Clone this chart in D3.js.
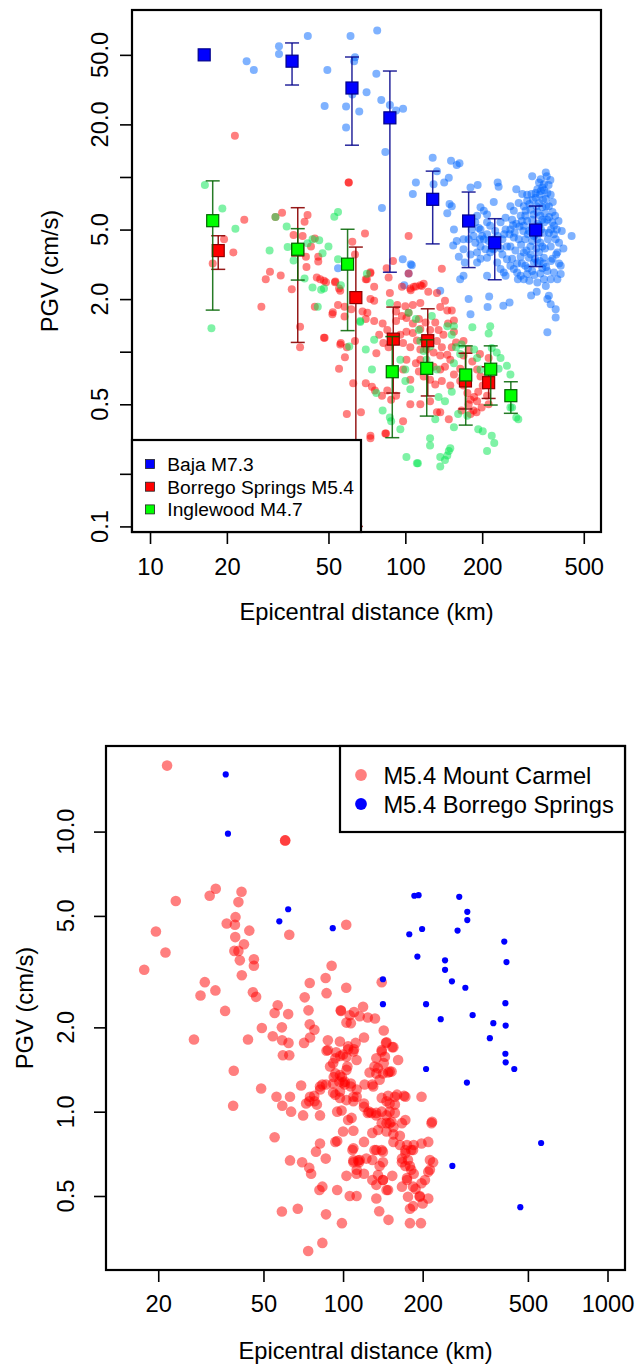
<!DOCTYPE html>
<html>
<head>
<meta charset="utf-8">
<script src="https://cdn.jsdelivr.net/npm/d3@7/dist/d3.min.js"></script>
<style>
  body { margin: 0; background: #fff; }
  svg { display: block; }
  text { font-family: "Liberation Sans", Arial, Helvetica, sans-serif; fill: #000; }
</style>
</head>
<body>
<svg id="chart" width="636" height="1365"></svg>
<script>
// ---------- Panel 1: PGV vs distance, three events ----------
// Station records: [epicentral distance km, PGV cm/s]
const bajaPts = [
  [23.9,46],[25.5,41],[32,56],[32,50.5],[41.5,64],[49.5,41],[61,64],[63.5,48.5],[63,46],[77.6,69],[77,39],
  [70.5,30.5],[80.5,27.6],[87,25.8],[92,24],[98,24.6],[48.3,25.5],[58.6,25.3],[62,29.7],[66,23.7],[58.6,19.2],
  [83.5,13.9],[81,6.65],[97.7,3.38],[99,2.4],[103,2.8],[54.5,3.0],
  [128,12.9],[133,10.8],[151,12.4],[159,11.7],[163,12.0],[110,9.3],[129,9.1],[142,9.3],[148,9.9],[107,8.0],
  [149,7.0],[152,6.8],[146,6.2],[180,8.7],[192,9.0],[230,9.3],[232,8.8],[272,8.5],[287,8.0],[300,7.9],[314,10.1],
  [355,10.6],[358,10.1],[334,9.3],[344,8.7],[324,8.1],[339,8.3],[360,8.1],[371,7.9],[222,7.2],[197,6.7],[203,6.4],
  [209,6.1],[191,6.0],[188,5.5],[194,5.1],[200,4.6],[155,5.0],[159,4.3],[154,4.05],[169,3.86],[162,3.5],[171,3.24],
  [169,2.72],[164,2.6],[191,3.24],[197,3.4],[209,3.45],[215,3.7],[236,2.97],[243,2.84],[247,2.72],[209,2.72],
  [258,3.1],[266,2.97],[274,2.84],[283,2.72],[291,2.6],[300,2.78],[329,2.49],[349,2.6],[371,2.6],[394,2.6],
  [406,2.78],[382,2.84],[355,2.38],[365,2.09],[360,2.0],[371,1.87],[388,1.75],[388,1.57],[360,1.29],[311,2.1],
  [327,2.2],[256,1.91],[242,1.83],[210,1.8],[213,2.07],[177,2.0],[180,1.64],[105,3.17],[106,3.12],[137,2.23],
  [169,4.4],[448,4.6],
  [258,6.8],[266,6.4],[278,7.1],[262,5.7],[272,5.4],[283,6.0],[268,4.8],[278,4.4],[258,4.0],[270,3.8],[283,3.5],
  [262,3.4],[274,3.2],[291,6.8],[300,7.3],[309,6.5],[295,6.0],[314,5.7],[291,5.25],[305,4.9],[319,4.6],[295,4.4],
  [309,4.0],[291,3.7],[305,3.45],[319,3.24],[295,3.1],[314,2.9],[324,7.6],[334,7.1],[344,6.7],[329,6.3],[344,5.7],
  [334,5.25],[349,4.8],[329,4.4],[344,4.0],[334,3.7],[349,3.45],[329,3.24],[344,3.0],[339,9.7],[349,9.1],[329,8.5],
  [355,7.5],[365,6.8],[377,6.3],[360,5.7],[382,5.25],[365,4.8],[388,4.4],[371,4.0],[394,3.7],[377,3.4],[400,3.2],
  [360,2.9],[382,4.7],[400,4.2],[406,3.1],[215,5.25],[225,4.9],[236,5.5],[247,5.85],[240,4.4],[229,4.1],[250,4.0],
  [222,3.86],[240,3.6],[250,3.38],[229,3.24],[209,4.7],[222,4.4],[247,5.0],[258,5.0],[174,5.7],[182,5.0],[177,4.4],
  [188,4.2],[197,4.0],[180,3.6],[191,3.7],[206,3.86],[203,4.4],[209,5.5],[197,5.0],[185,4.6],
  [300,5.6],[312,5.1],[322,4.7],[330,5.4],[340,5.0],[350,5.5],[318,6.1],[338,6.0],[326,6.8],[352,6.2],[306,7.0],
  [316,7.4],[296,6.4],[286,5.6],[302,4.7],[314,4.3],[326,3.9],[338,4.2],[352,3.9],[362,4.4],[372,5.0],[366,5.9],
  [376,5.5],[386,6.0],[356,6.8],[346,7.4],[336,7.9],[312,8.0],[350,8.4],[364,9.0],[370,9.6],[378,7.2],[290,4.9],
  [280,5.2],[266,4.5],[284,4.1],[298,3.8],[310,3.6],[322,3.4],[336,3.3],[348,3.2],[302,3.0],[320,2.75],[338,2.8],
  [356,3.05],[372,3.3],[390,3.6],[392,5.0],[398,5.6],[410,4.9],[416,3.9],[286,3.2],[276,2.6],[306,2.55],[230,4.6],
  [218,3.9],[236,3.9],[256,4.7],[264,5.3],[244,4.7],[196,4.4],[212,4.3]
];

const borregoPts = [
  [21.5,17.2],[23.4,5.7],[19.5,4.4],[21.2,3.7],[17.6,3.2],[27.3,1.81],[32.9,6.25],[31,5.9],[41.4,6.05],[40.3,5.55],
  [36.5,4.65],[39.6,4.6],[44.2,4.45],[42.7,4.0],[40.8,3.5],[41,3.05],[45.6,3.5],[45.6,3.28],[29.5,2.87],[28.4,2.6],
  [32.5,2.73],[35.9,2.28],[45,2.66],[46.4,2.6],[48.9,2.5],[53.2,2.52],[55.6,2.23],[44.2,1.81],[51.8,1.64],[54.5,1.85],
  [57.8,1.81],[57.8,1.59],[61.4,1.75],[62,4.26],[60,9.3],[60,9.3],[38.7,1.39],[48.3,1.2],[55.9,1.12],[38.7,1.06],
  [69.5,4.74],[103,4.6],[89.5,3.3],[84.5,3.0],[103,2.8],[139,2.98],[104.6,2.3],[110,2.36],[116,2.38],[70.7,2.6],
  [72.9,2.81],[63.5,3.6],
  [48,2.55],[53,2.5],[55,2.3],[52,1.68],[48,1.2],[55.6,1.1],[59,1.06],[63.5,1.15],[58,0.93],[55,0.8],[62.5,0.66],
  [70,0.66],[74,0.63],[76,0.6],[68,1.7],[71,1.67],[75.5,1.5],[70,1.54],[73,2.0],[75.5,1.96],[70,2.6],[73,2.85],
  [86,2.66],[87,2.17],[97,2.35],[105,2.25],[108,2.35],[114.5,2.4],[118,2.45],[123,2.2],[133,2.17],[143,1.96],
  [137,1.8],[146,1.72],[152,1.72],[155,1.51],[93,1.85],[100,1.82],[107,1.85],[114.5,1.9],[97,1.6],[101,1.56],
  [107,1.45],[113,1.54],[92,1.5],[81.5,1.45],[85,1.33],[79,1.25],[82,1.12],[77,0.98],[86,1.06],[95.6,1.25],
  [101,1.3],[98,1.12],[104.6,1.06],[111,1.16],[118,1.17],[125,1.33],[131,1.47],[135,1.33],[133,1.15],[139,1.06],
  [129,0.99],[137,0.95],[146,0.96],[150,0.9],[143,0.82],[137,0.79],[129,0.82],[121,0.83],[114.5,0.9],[110,0.86],
  [101,0.9],[98,0.79],[104.6,0.69],[113,0.77],[118,0.72],[125,0.69],[131,0.65],[139,0.68],[150,0.64],[155,0.74],
  [164,0.8],[158,1.13],[169,1.15],[177,1.03],[169,0.95],[164,0.68],[169,0.64],[175,0.58],[180,0.53],[177,0.5],
  [186,0.55],[191,0.52],[193,0.59],[201,0.64],[197,0.72],[191,0.79],[183,0.88],[196,0.97],[212,0.92],[215,0.82],
  [209,0.56],[212,0.5],[185,0.46],[180,0.44],[166,0.46],[148,0.41],[133,0.45],[125,0.52],[114.5,0.5],[104.6,0.5],
  [98,0.4],[84,0.34],[73,0.32],[67,0.45],[59,0.44],[92,0.56],[88,0.53],[81,0.56],[85,0.6],[75.5,2.35],[155,1.3],
  [147,1.45],[107,1.28],[114.5,1.35],[120,1.47],[92,1.7],[103,1.67],[141,1.25],[152,1.06],[121,1.03],[114.5,1.03],
  [73,0.33],[83.5,0.34],[137,0.45],[190,0.45],[199,0.48]
];

const inglewoodPts = [
  [16.4,9.0],[19.2,6.6],[21.6,5.05],[17.4,1.36],[29.4,3.79],[31,5.9],[34.3,5.2],[34.6,3.97],[36.5,3.33],[40.3,2.62],
  [41.4,4.17],[46,4.35],[50,4.0],[47.4,3.66],[43.3,2.33],[46.8,2.26],[45.4,1.81],[52.7,5.93],[54.5,6.3],[54.5,3.38],
  [55.9,2.4],[60.3,1.07],[66.6,1.48],[43.3,4.4],[70.7,2.79],
  [48,2.3],[87,1.9],[66.6,1.5],[75.5,1.17],[70,1.03],[74,0.79],[77,0.58],[81.5,0.46],[87,0.42],[88,0.4],[95.6,0.36],
  [95.6,0.9],[100,0.68],[104.6,0.61],[100,0.79],[103,1.67],[110,1.54],[113,1.33],[114.5,1.15],[118,1.01],[121,0.9],
  [125,1.07],[127,1.6],[133,0.79],[135,0.55],[143,0.52],[152,0.59],[155,0.86],[158,1.06],[152,1.25],[146,1.4],
  [155,1.4],[166,1.1],[164,0.97],[183,1.38],[186,1.03],[191,0.92],[197,0.79],[215,1.4],[212,1.27],[218,1.05],
  [228,0.99],[236,0.92],[250,0.83],[258,0.74],[262,0.48],[277,0.41],[193,0.36],[201,0.35],[218,0.33],[223,0.3],
  [209,0.27],[155,0.37],[161,0.44],[175,0.43],[131,0.41],[125,0.32],[125,0.29],[148,0.27],[146,0.255],[143,0.24],
  [137,0.22],[112,0.23],[101,0.25],[137,0.25],[150,0.28],[111,0.23],[272,0.42],[258,0.48],[232,0.8]
];

// Binned means with error bars
const bajaMeanDist = [16.3, 36, 61.8, 87, 128, 177, 224, 324];
const bajaMeanPGV  = [50, 46, 32.3, 21.8, 7.45, 5.6, 4.2, 4.97];
const bajaLow      = [null, 33.6, 15.2, 2.85, 4.14, 3.03, 2.58, 3.07];
const bajaHigh     = [null, 58.5, 48.6, 40.4, 10.8, 8.2, 5.77, 6.82];

const borregoMeanDist = [18.5, 37.9, 64, 89.7, 122.4, 172, 212];
const borregoMeanPGV  = [3.79, 3.82, 2.04, 1.18, 1.156, 0.68, 0.665];
const borregoLow      = [2.96, 1.13, 0.1, 0.58, 0.558, 0.47, 0.54];
const borregoHigh     = [4.61, 6.67, 3.97, 1.80, 1.76, 0.98, 0.82];

const inglewoodMeanDist = [17.6, 37.9, 59.4, 88.9, 121.3, 172.4, 216, 259];
const inglewoodMeanPGV  = [5.62, 3.86, 3.17, 0.768, 0.803, 0.736, 0.794, 0.56];
const inglewoodLow      = [1.73, 2.57, 1.32, 0.322, 0.428, 0.38, 0.495, 0.444];
const inglewoodHigh     = [9.5, 5.06, 5.02, 1.22, 1.17, 1.08, 1.08, 0.673];

const topXTicks = [10, 20, 50, 100, 200, 500];
const topYTicks = [0.1, 0.2, 0.5, 1, 2, 5, 10, 20, 50];
const topYLabels = [0.1, 0.5, 2, 5, 20, 50];
const topLegend = ["Baja M7.3", "Borrego Springs M5.4", "Inglewood M4.7"];

// ---------- Panel 2: Mount Carmel vs Borrego Springs ----------
const carmelPts = [
  [21.6,17.2],[60.4,9.3],[60.4,9.3],[33,6.25],[31.3,5.9],[41.3,6.1],[40.2,5.6],[23.3,5.65],[39.2,4.95],[36.3,4.7],
  [39,4.65],[19.6,4.4],[44.2,4.43],[39.1,4.2],[42.2,3.96],[38.8,3.75],[40.2,3.75],[21.3,3.7],[40.7,3.47],[46,3.5],
  [46,3.32],[17.7,3.21],[41.4,3.07],[62.6,4.28],[102.8,4.65],[90.5,3.32],[85.9,3.0],[74.8,2.88],[86.6,2.65],
  [102.8,2.77],[71.6,2.56],[30,2.9],[32.9,2.71],[28.9,2.6],[45.6,2.67],[46.9,2.57],[56.6,2.4],[35.8,2.29],[55.1,2.25],
  [62,2.23],[74,2.3],[98,2.3],
  [74.8,2.05],[77.9,1.96],[71.2,1.76],[75,1.84],[98.2,2.29],[106,2.21],[110,2.27],[119,2.37],[115.6,2.19],[124,2.17],
  [132,2.15],[103,2.08],[107,2.07],[142.5,1.95],[120,1.84],[87.6,1.80],[97.3,1.78],[49.3,1.99],[54.2,1.86],[58.7,2.0],
  [58.8,1.80],[62.2,1.76],[59.2,1.59],[62.6,1.59],[43.7,1.81],[27.3,1.81],[38.6,1.40],[49,1.21],[56,1.13],[63,1.13],
  [69.4,1.24],[86.6,1.65],[94.1,1.63],[100,1.60],[91.7,1.49],[97.5,1.58],[104.5,1.71],[111.6,1.76],[109.4,1.64],
  [103,1.57],[145.3,1.76],[140,1.64],[153.5,1.70],[144,1.57],[161.5,1.53],[150,1.39],[141.5,1.37],[131.5,1.45],
  [133.5,1.37],[126,1.38],[129,1.25],[120.6,1.25],[112.6,1.20],[109.4,1.13],[101.4,1.25],[96.8,1.28],[92.2,1.33],
  [89.3,1.45],[103.8,1.45],[103,1.41],[99,1.33],[93.5,1.37],[97.3,1.18],[86.2,1.25],[81.9,1.20],[77.8,1.14],
  [172,1.13],[198,1.13],[157,1.13],[140,2.9],
  [38.4,1.05],[55.1,0.81],[63,0.67],[70,0.66],[74.5,0.63],[75.7,0.60],[58.7,0.44],[67.4,0.45],[73.8,0.318],
  [83.5,0.34],[86.2,0.43],[99,0.40],[81.4,0.525],[83.5,0.54],[95,0.525],[106,0.5],[112.5,0.5],[79,0.72],[86,0.68],
  [81.8,0.77],[93.5,0.78],[95,0.786],[103,0.59],[112.5,0.6],[120,0.6],[109.4,0.67],[114,0.67],[115,0.66],[108.5,0.73],
  [109.4,0.74],[120,0.78],[100,0.85],[109.4,0.855],[104.5,0.934],[107.7,0.95],[95,1.0],[98.7,1.01],[91.7,1.17],
  [97.3,1.12],[93.5,1.15],[103,1.10],[109.4,1.09],[120,1.04],[125.3,1.0],[133.6,0.99],[140,1.0],[146,0.97],[129,0.84],
  [135.5,0.86],[146,0.91],[152.5,0.92],[155,0.88],[131.5,0.73],[140,0.73],[129,0.672],[141.5,0.66],[135.5,0.594],
  [141.5,0.57],[133.6,0.548],[148,0.525],[137,0.441],[148.5,0.411],[153.5,0.59],[155,0.78],[164,0.76],[172,0.73],
  [167,0.68],[176,0.672],[172,0.64],[181,0.62],[174.5,0.58],[167,0.54],[176,0.497],[179,0.45],[184,0.46],[188,0.53],
  [195,0.497],[200,0.47],[179,0.40],[197,0.40],[185,0.76],[184,0.73],[198,0.77],[210,0.78],[216,0.91],[213,0.672],
  [219,0.66],[210,0.61],[213,0.62],[204,0.57],[210,0.49],[198,0.555],[167,0.91],[172,0.934],[157,0.99],[150,1.0],
  [157,1.06],[150,1.07],[146,1.09],[140,1.12],[148,1.14],[160,1.15],[170,1.14],[217,0.92],[130,1.23],[137.5,1.30],
  [83.5,1.25],[91.7,1.26],[100,1.27],[107,1.26],[78,1.09],[74.5,1.09],[72.5,1.07],[58.9,1.05],[63.6,1.0],[70.6,0.97],
  [81.8,0.97],[79.6,1.06],[75,1.13],
  [87.6,1.66],[93.5,1.55],[104.5,1.67],[110,1.67],[112.5,1.53],[146,1.77],[155,1.70],[140,1.66],[133.6,1.55],
  [142.5,1.49],[135.5,1.43],[152.5,1.39],[148,1.38],[97.3,1.35],[101.5,1.28],[107,1.23],[112.6,1.13],[120,1.07],
  [124,0.99],[128,0.99],[133.6,0.97],[140,0.91],[150,0.91],[146,0.85],[155,0.83],[164,0.82],[174.5,0.76],[181,0.73],
  [172,0.71],[167,0.66],[179,0.64],[185,0.60],[174.5,0.57],[184,0.54],[195,0.50],[115.6,0.672],[122.5,0.68],
  [133.6,0.73],[141.5,0.72],[109.4,0.66],[112.6,0.62],[137.5,0.64],[129,0.57],[141.5,0.57],[146,0.525],[133.6,0.49],
  [81.8,1.23]
];

const borregoSpringsPts = [
  [36,16.0],[36.7,9.83],[62,5.28],[57.4,4.78],[91.4,4.52],[178,4.3],[199,4.49],[271,4.43],[295,5.17],[295,4.83],
  [407,4.05],[191,3.58],[243,3.47],[243,3.21],[258,2.92],[290,2.77],[415,3.42],[141.5,2.97],[141.5,2.42],[206,2.42],
  [234,2.14],[309,2.21],[370,2.07],[411,2.44],[412,2.03],[359,1.83],[411,1.61],[412,1.50],[444,1.42],[206,1.42],
  [294,1.27],[186,5.9],[193,5.93],[275,5.85],[561,0.773],[259,0.64],[468,0.456]
];

const botXTicks = [20, 50, 100, 200, 500, 1000];
const botYTicks = [0.5, 1, 2, 5, 10];
const botLegend = ["M5.4 Mount Carmel", "M5.4 Borrego Springs"];

// ---------- drawing ----------
const svg = d3.select("#chart");
const FONT = 23.7;
const fmt1 = d3.format(".1f");

function styleAxis(g) {
  g.select(".domain").remove();
  g.attr("font-size", null).attr("font-family", null);
  g.selectAll(".tick line").attr("stroke", "#000").attr("stroke-width", 1.6);
  g.selectAll(".tick text").attr("font-size", FONT).attr("fill", "#000");
}

function frame(box, x, y, o) {
  // x axis
  svg.append("g")
    .attr("transform", `translate(0,${box.b})`)
    .call(d3.axisBottom(x).tickValues(o.xTicks).tickFormat(d3.format("d")).tickSize(12).tickPadding(o.xPad))
    .call(styleAxis);
  // y axis ticks, labels drawn rotated separately
  svg.append("g")
    .attr("transform", `translate(${box.l},0)`)
    .call(d3.axisLeft(y).tickValues(o.yTicks).tickFormat("").tickSize(12))
    .call(styleAxis);
  svg.append("g").selectAll("text").data(o.yLabels).join("text")
    .attr("transform", d => `translate(${o.yLabX},${y(d)}) rotate(-90)`)
    .attr("text-anchor", "middle").attr("font-size", FONT)
    .text(d => fmt1(d));
  // box
  svg.append("rect").attr("x", box.l).attr("y", box.t)
    .attr("width", box.r - box.l).attr("height", box.b - box.t)
    .attr("fill", "none").attr("stroke", "#000").attr("stroke-width", 2.2);
  // titles
  svg.append("text").attr("x", (box.l + box.r) / 2).attr("y", o.xTitleY)
    .attr("text-anchor", "middle").attr("font-size", FONT).text("Epicentral distance (km)");
  svg.append("text")
    .attr("transform", `translate(${o.yTitleX},${(box.t + box.b) / 2}) rotate(-90)`)
    .attr("text-anchor", "middle").attr("font-size", FONT).text("PGV (cm/s)");
}

// ===== Panel 1 =====
const box1 = { l: 132, r: 601, t: 10, b: 532 };
const x1 = d3.scaleLog().domain([8.5, 584]).range([box1.l, box1.r]);
const y1 = d3.scaleLog().domain([0.0929, 90.3]).range([box1.b, box1.t]);

svg.append("defs").append("clipPath").attr("id", "clip1")
  .append("rect").attr("x", box1.l).attr("y", box1.t)
  .attr("width", box1.r - box1.l).attr("height", box1.b - box1.t);

const p1 = svg.append("g").attr("clip-path", "url(#clip1)");

function scatter(g, pts, x, y, color, r, op) {
  g.append("g").selectAll("circle").data(pts).join("circle")
    .attr("cx", d => x(d[0])).attr("cy", d => y(d[1]))
    .attr("r", r).attr("fill", color).attr("fill-opacity", op);
}

scatter(p1, bajaPts, x1, y1, "#0066FF", 4.0, 0.5);
scatter(p1, borregoPts, x1, y1, "#FF0000", 4.0, 0.5);
scatter(p1, inglewoodPts, x1, y1, "#00E64D", 4.0, 0.5);

function means(g, dist, pgv, lo, hi, fill, line, lineOp) {
  const rows = dist.map((d, i) => ({ d, v: pgv[i], lo: lo[i], hi: hi[i] }));
  const bars = g.append("g").attr("stroke", line).attr("stroke-width", 1.5).attr("stroke-opacity", lineOp);
  rows.filter(r => r.lo != null).forEach(r => {
    const cx = x1(r.d);
    bars.append("line").attr("x1", cx).attr("x2", cx).attr("y1", y1(r.lo)).attr("y2", y1(r.hi));
    [r.lo, r.hi].forEach(e => bars.append("line")
      .attr("x1", cx - 7).attr("x2", cx + 7).attr("y1", y1(e)).attr("y2", y1(e)));
  });
  g.append("g").selectAll("rect").data(rows).join("rect")
    .attr("x", r => x1(r.d) - 6).attr("y", r => y1(r.v) - 6)
    .attr("width", 12).attr("height", 12)
    .attr("fill", fill).attr("stroke", line).attr("stroke-width", 1.2);
}

means(p1, bajaMeanDist, bajaMeanPGV, bajaLow, bajaHigh, "#0000FF", "#00008B", 0.85);
means(p1, borregoMeanDist, borregoMeanPGV, borregoLow, borregoHigh, "#FF0000", "#8B0000", 0.9);
means(p1, inglewoodMeanDist, inglewoodMeanPGV, inglewoodLow, inglewoodHigh, "#00FF00", "#006400", 0.85);

frame(box1, x1, y1, {
  xTicks: topXTicks, yTicks: topYTicks, yLabels: topYLabels,
  xPad: 14.5, yLabX: 107.5, xTitleY: 620, yTitleX: 58
});

// legend, bottom-left
const leg1 = svg.append("g");
leg1.append("rect").attr("x", 132).attr("y", 440).attr("width", 229).attr("height", 92)
  .attr("fill", "#fff").attr("stroke", "#000").attr("stroke-width", 2.2);
const leg1Fill = ["#0000FF", "#FF0000", "#00FF00"];
topLegend.forEach((t, i) => {
  const cy = 464 + i * 22.7;
  leg1.append("rect").attr("x", 145.5).attr("y", cy - 4.5).attr("width", 9).attr("height", 9)
    .attr("fill", leg1Fill[i]).attr("stroke", "#222").attr("stroke-width", 0.8);
  leg1.append("text").attr("x", 167.3).attr("y", cy + 6.8).attr("font-size", 19.2).text(t);
});

// ===== Panel 2 =====
const box2 = { l: 106, r: 625, t: 746, b: 1270 };
const x2 = d3.scaleLog().domain([12.69, 1164.6]).range([box2.l, box2.r]);
const y2 = d3.scaleLog().domain([0.2721, 20.21]).range([box2.b, box2.t]);

svg.select("defs").append("clipPath").attr("id", "clip2")
  .append("rect").attr("x", box2.l).attr("y", box2.t)
  .attr("width", box2.r - box2.l).attr("height", box2.b - box2.t);
const p2 = svg.append("g").attr("clip-path", "url(#clip2)");

scatter(p2, carmelPts, x2, y2, "#FF0000", 5.3, 0.5);
scatter(p2, borregoSpringsPts, x2, y2, "#0000FF", 3.1, 1);

frame(box2, x2, y2, {
  xTicks: botXTicks, yTicks: botYTicks, yLabels: botYTicks,
  xPad: 13.2, yLabX: 73.8, xTitleY: 1359, yTitleX: 33
});

// legend, top-right
const leg2 = svg.append("g");
leg2.append("rect").attr("x", 340).attr("y", 746).attr("width", 285).attr("height", 86)
  .attr("fill", "#fff").attr("stroke", "#000").attr("stroke-width", 2.2);
const leg2Fill = [["#FF0000", 0.5], ["#0000FF", 1]];
botLegend.forEach((t, i) => {
  const cy = 775 + i * 29;
  leg2.append("circle").attr("cx", 361).attr("cy", cy).attr("r", 5.9)
    .attr("fill", leg2Fill[i][0]).attr("fill-opacity", leg2Fill[i][1]);
  leg2.append("text").attr("x", 383.4).attr("y", cy + 9).attr("font-size", FONT).text(t);
});
</script>
</body>
</html>
